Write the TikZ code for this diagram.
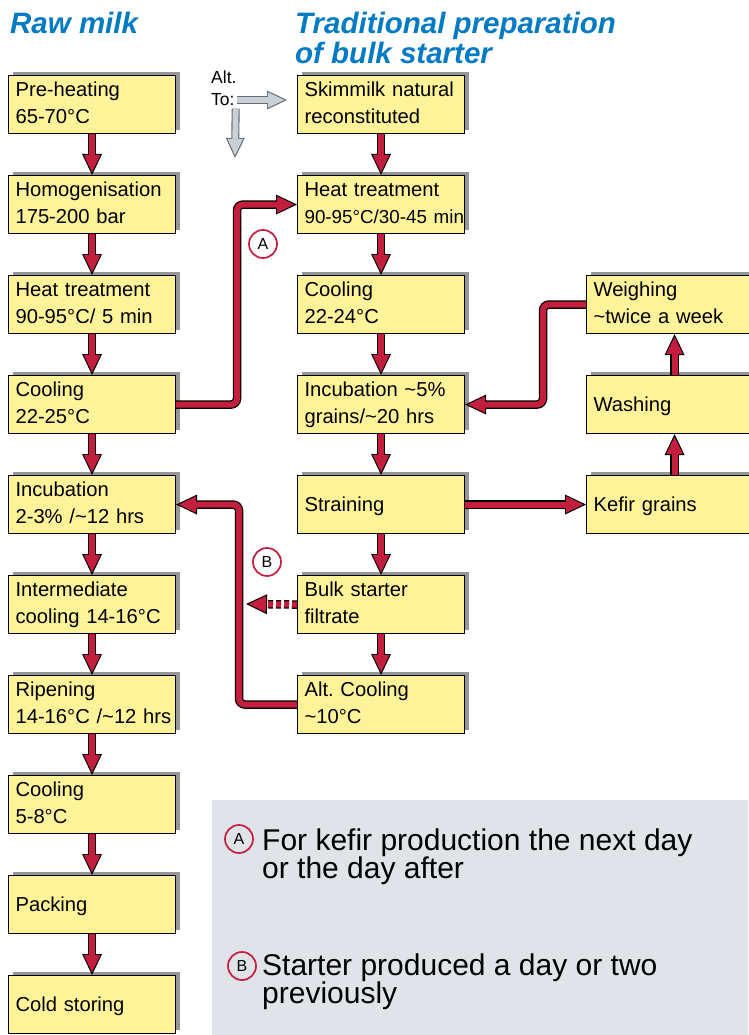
\documentclass[tikz,border=0pt]{standalone}
\usepackage{fontspec}
\setmainfont{Liberation Sans}
\usetikzlibrary{arrows.meta,shadows}
\definecolor{boxfill}{RGB}{255,243,153}
\definecolor{flowred}{RGB}{196,30,62}
\definecolor{titleblue}{RGB}{0,122,194}
\definecolor{legendgray}{RGB}{224,228,232}
\definecolor{altgray}{RGB}{200,208,216}
\definecolor{altedge}{RGB}{105,110,115}
\definecolor{shadowgray}{RGB}{150,150,150}
\newcommand\kfTwo{\vrule height 14pt depth 4pt width 0pt}
\newcommand\kfOne{\vrule height 19pt depth 0pt width 0pt}
\newcommand\kfTitle{\vrule height 22pt depth 0pt width 0pt}
\tikzset{
  stage/.style={draw=black, line width=1.1pt, fill=boxfill,
    minimum width=167pt, minimum height=58pt, text width=153pt,
    inner xsep=7pt, inner ysep=0pt, align=left, anchor=north west,
    font=\fontsize{20.2}{27}\selectfont,
    general shadow={fill=shadowgray, shadow xshift=4pt, shadow yshift=4pt}},
  widestage/.style={stage, minimum width=176pt, text width=162pt},
  flowback/.style={draw=black, line width=8.5pt, rounded corners=6pt,
    -{Triangle[length=21pt,width=20pt,line width=0pt]}},
  flowfront/.style={draw=flowred, line width=6pt, rounded corners=6pt,
    -{Triangle[length=17pt,width=16.5pt,line width=0pt]}, shorten >=2.8pt},
  altback/.style={draw=altedge, line width=8pt,
    -{Triangle[length=20pt,width=19pt,line width=0pt]}},
  altfront/.style={draw=altgray, line width=5.8pt,
    -{Triangle[length=16.5pt,width=15.5pt,line width=0pt]}, shorten >=2.6pt},
  tag/.style={circle, draw=flowred, line width=1.7pt, minimum size=28pt,
    inner sep=0pt, font=\fontsize{16}{16}\selectfont},
  legendtext/.style={anchor=north west, inner sep=0pt, align=left,
    font=\fontsize{30}{28.5}\selectfont},
}
\newcommand\flow[2][]{\draw[flowback,#1] #2; \draw[flowfront,#1] #2;}
\newcommand\altflow[1]{\draw[altback] #1; \draw[altfront] #1;}
\begin{document}
\begin{tikzpicture}[x=1pt,y=-1pt]
\useasboundingbox (0,0) rectangle (748,1035);
% titles
\node[anchor=base west, inner sep=0pt, text=titleblue,
  font=\fontsize{29.5}{30}\selectfont\bfseries\itshape] (t1) at (10,34) {Raw milk};
\node[anchor=north west, inner sep=0pt, align=left, text=titleblue,
  font=\fontsize{29.5}{30}\selectfont\bfseries\itshape] (t2) at (295,11)
  {\kfTitle Traditional preparation\\of bulk starter};
% legend
\node[fill=legendgray, anchor=north west, minimum width=536pt, minimum height=235pt,
  inner sep=0pt] (legend) at (212,800) {};
\node[tag] (la) at (239,839) {A};
\node[tag] (lb) at (242,966) {B};
\node[legendtext] (lta) at (262,828)
  {\kfTitle For kefir production the next day\\or the day after};
\node[legendtext] (ltb) at (262,953)
  {\kfTitle Starter produced a day or two\\previously};
% left column
\node[stage] (pre) at (8,75) {\kfTwo Pre-heating\\\kfTwo 65-70°C};
\node[stage] (homo) at (8,175) {\kfTwo Homogenisation\\\kfTwo 175-200 bar};
\node[stage] (heat1) at (8,275) {\kfTwo Heat treatment\\\kfTwo 90-95°C/ 5 min};
\node[stage] (cool1) at (8,375) {\kfTwo Cooling\\\kfTwo 22-25°C};
\node[stage] (incub1) at (8,475) {\kfTwo Incubation\\\kfTwo 2-3\% /\textasciitilde12 hrs};
\node[stage] (inter) at (8,575) {\kfTwo Intermediate\\\kfTwo cooling 14-16°C};
\node[stage] (ripen) at (8,675) {\kfTwo Ripening\\\kfTwo \mbox{14-16°C /\textasciitilde12 hrs}};
\node[stage] (cool2) at (8,775) {\kfTwo Cooling\\\kfTwo 5-8°C};
\node[stage] (pack) at (8,875) {\kfOne Packing};
\node[stage] (store) at (8,975) {\kfOne Cold storing};
% middle column
\node[stage] (skim) at (297,75) {\kfTwo Skimmilk natural\\\kfTwo reconstituted};
\node[stage] (heat2) at (297,175) {\kfTwo Heat treatment\\\kfTwo \mbox{\fontsize{18.8}{27}\selectfont 90-95°C/30-45 min}};
\node[stage] (cool3) at (297,275) {\kfTwo Cooling\\\kfTwo 22-24°C};
\node[stage] (incub2) at (297,375) {\kfTwo Incubation \textasciitilde5\%\\\kfTwo grains/\textasciitilde20 hrs};
\node[stage] (strain) at (297,475) {\kfOne Straining};
\node[stage] (bulk) at (297,575) {\kfTwo Bulk starter\\\kfTwo filtrate};
\node[stage] (altcool) at (297,675) {\kfTwo Alt.\ Cooling\\\kfTwo \textasciitilde10°C};
% right column
\node[widestage] (weigh) at (586,275) {\kfTwo Weighing\\\kfTwo \textasciitilde twice a week};
\node[widestage] (wash) at (586,375) {\kfOne Washing};
\node[widestage] (kefir) at (586,475) {\kfOne Kefir grains};
% alt to
\node[anchor=north west, inner sep=0pt, align=left,
  font=\fontsize{17.5}{22}\selectfont] (alt) at (211,70)
  {\vrule height 13pt depth 0pt width 0pt Alt.\\To:};
\coordinate (altr) at (287,100);
\coordinate (altd) at (235,158);
\altflow{(alt.east |- altr) -- (altr)}
\altflow{([xshift=-1pt,yshift=-3pt]alt.south east) -- (altd)}
% main flows
\flow{(pre.south) -- (homo.north)}
\flow{(homo.south) -- (heat1.north)}
\flow{(heat1.south) -- (cool1.north)}
\flow{(cool1.south) -- (incub1.north)}
\flow{(incub1.south) -- (inter.north)}
\flow{(inter.south) -- (ripen.north)}
\flow{(ripen.south) -- (cool2.north)}
\flow{(cool2.south) -- (pack.north)}
\flow{(pack.south) -- (store.north)}
\flow{(skim.south) -- (heat2.north)}
\flow{(heat2.south) -- (cool3.north)}
\flow{(cool3.south) -- (incub2.north)}
\flow{(incub2.south) -- (strain.north)}
\flow{(strain.south) -- (bulk.north)}
\flow{(bulk.south) -- (altcool.north)}
\flow{(strain.east) -- (kefir.west)}
\flow{(kefir.north) -- (wash.south)}
\flow{(wash.north) -- (weigh.south)}
\coordinate (xa) at (237,0);
\coordinate (xb) at (239,0);
\coordinate (xw) at (543,0);
\flow{(cool1.east) -- (cool1.east -| xa) |- (heat2.west)}
\flow{(altcool.west) -- (altcool.west -| xb) |- (incub1.east)}
\flow{(weigh.west) -- (weigh.west -| xw) |- (incub2.east)}
\coordinate (dend) at (246,604);
\flow[dash pattern=on 5pt off 3pt]{(bulk.west) -- (dend)}
% circle tags
\node[tag, fill=white] (ca) at (263,244) {A};
\node[tag, fill=white] (cb) at (267,562) {B};
\end{tikzpicture}
\end{document}
